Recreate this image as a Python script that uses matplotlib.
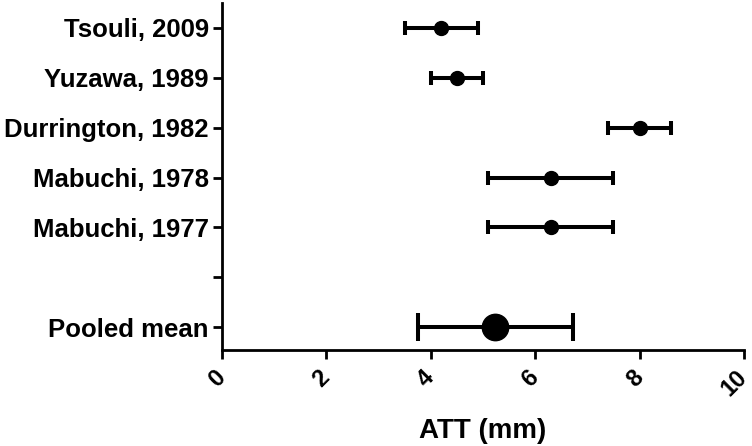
import matplotlib
matplotlib.use("Agg")
import matplotlib.pyplot as plt

# Study estimates (ATT, mm) with confidence limits
studies = ["Tsouli, 2009", "Yuzawa, 1989", "Durrington, 1982", "Mabuchi, 1978", "Mabuchi, 1977"]
means = [4.2, 4.5, 8.0, 6.3, 6.3]
lows = [3.5, 4.0, 7.4, 5.1, 5.1]
highs = [4.9, 5.0, 8.6, 7.5, 7.5]

# Pooled estimate
pooled_label = "Pooled mean"
pooled_mean = 5.23
pooled_low = 3.75
pooled_high = 6.72

x_ticks = [0, 2, 4, 6, 8, 10]

plt.rcParams['font.family'] = ['Liberation Sans', 'DejaVu Sans']
plt.rcParams['font.weight'] = 'bold'

fig = plt.figure(figsize=(7.52, 4.46), dpi=100)
ax = fig.add_axes([0.2952, 0.2152, 0.694, 0.778])

# Rows: studies from the top, one blank row, then pooled at the bottom
n = len(studies)
study_y = [n + 1 - i for i in range(n)]
err_lo = [m - l for m, l in zip(means, lows)]
err_hi = [h - m for m, h in zip(means, highs)]

ax.errorbar(means, study_y, xerr=[err_lo, err_hi], fmt='o', color='black',
            markersize=10, elinewidth=2.9, capsize=5, capthick=2.9)
ax.errorbar([pooled_mean], [0], xerr=[[pooled_mean - pooled_low], [pooled_high - pooled_mean]],
            fmt='o', color='black', markersize=19, elinewidth=2.9, capsize=10, capthick=2.9)

ax.set_yticks(study_y + [1, 0])
ax.set_yticklabels(studies + ["", pooled_label])
ax.set_ylim(-0.46, n + 1.5)
ax.set_xlim(0, 10)
ax.set_xticks(x_ticks)
ax.set_xticklabels([str(t) for t in x_ticks], rotation=45, ha='right', va='center',
                   rotation_mode='anchor')

for s in ['top', 'right']:
    ax.spines[s].set_visible(False)
for s in ['left', 'bottom']:
    ax.spines[s].set_linewidth(2.0)
ax.tick_params(axis='both', width=2.0, length=6.5)
ax.tick_params(axis='y', labelsize=18.5, pad=3)
ax.tick_params(axis='x', labelsize=17, pad=11)

ax.set_xlabel("ATT (mm)", fontsize=20, fontweight='bold', labelpad=12)

fig.savefig("out.png", dpi=100)
